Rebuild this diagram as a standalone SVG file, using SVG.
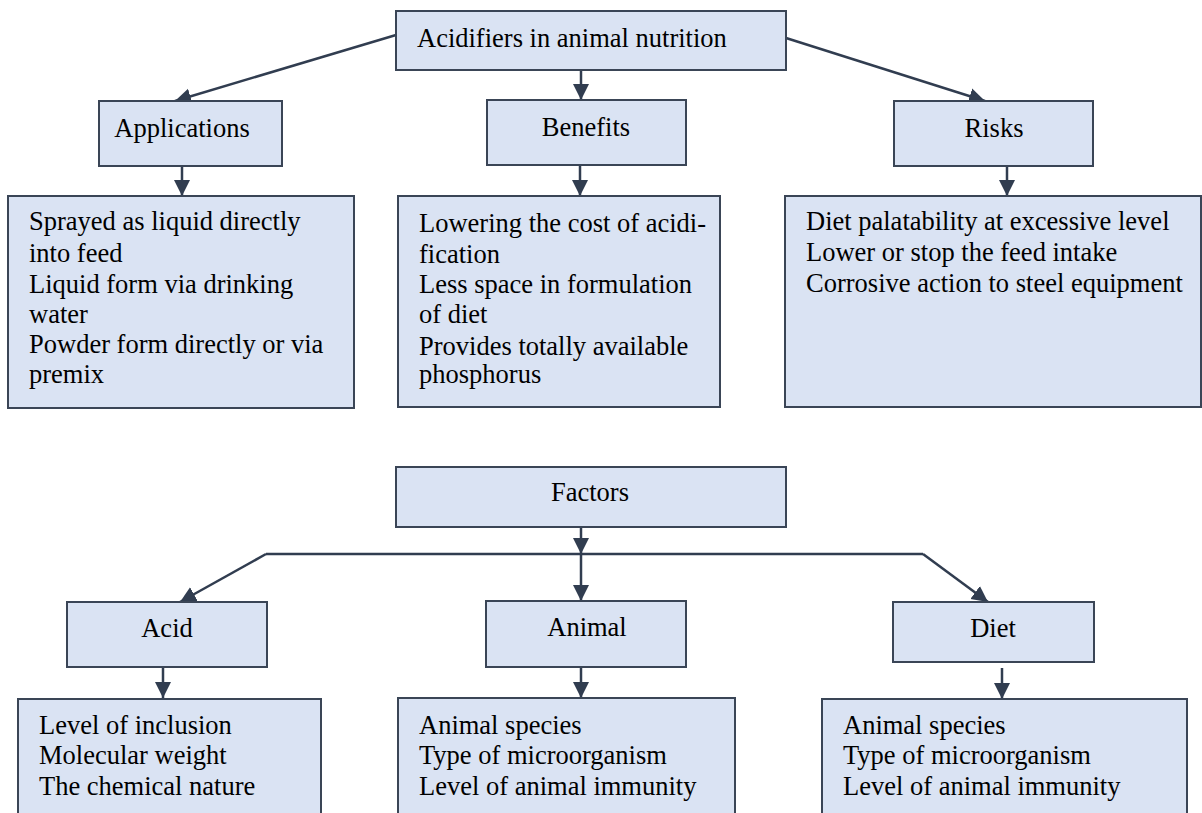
<svg xmlns="http://www.w3.org/2000/svg" width="1202" height="813" viewBox="0 0 1202 813">
<style>
.box{fill:#dae3f3;stroke:#3a4556;stroke-width:2}
.lbl{font-family:"Liberation Serif","Times New Roman",serif;font-size:26.5px;fill:#000}
.c{text-anchor:middle}
.con{fill:none;stroke:#313d50;stroke-width:2.5}
</style>
<defs>
<marker id="ah" markerUnits="userSpaceOnUse" markerWidth="17" markerHeight="17" refX="16" refY="8" orient="auto" viewBox="0 0 17 16">
<path d="M0,0 L16,8 L0,16 z" fill="#313d50"/>
</marker>
</defs>
<rect x="0" y="0" width="1202" height="813" fill="#fff"/>
<g id="connectors">
<line class="con" x1="396" y1="35" x2="175" y2="101" marker-end="url(#ah)"/>
<line class="con" x1="581" y1="70" x2="581" y2="100" marker-end="url(#ah)"/>
<line class="con" x1="786" y1="38" x2="985" y2="101" marker-end="url(#ah)"/>
<line class="con" x1="182" y1="166" x2="182" y2="196" marker-end="url(#ah)"/>
<line class="con" x1="580" y1="165" x2="580" y2="196" marker-end="url(#ah)"/>
<line class="con" x1="1007" y1="166" x2="1007" y2="196" marker-end="url(#ah)"/>
<line class="con" x1="581" y1="527" x2="581" y2="554" marker-end="url(#ah)"/>
<polyline class="con" points="266,554 923,554"/>
<line class="con" x1="581" y1="554" x2="581" y2="601" marker-end="url(#ah)"/>
<line class="con" x1="266" y1="554" x2="180" y2="602" marker-end="url(#ah)"/>
<line class="con" x1="923" y1="554" x2="988" y2="602" marker-end="url(#ah)"/>
<line class="con" x1="163" y1="667" x2="163" y2="698" marker-end="url(#ah)"/>
<line class="con" x1="581" y1="667" x2="581" y2="698" marker-end="url(#ah)"/>
<line class="con" x1="1002" y1="668" x2="1002" y2="699" marker-end="url(#ah)"/>
</g>
<g id="root">
<rect class="box" x="396" y="11" width="390" height="59"/>
<text class="lbl" x="417" y="47">Acidifiers in animal nutrition</text>
</g>
<g id="applications">
<rect class="box" x="99" y="101" width="183" height="65"/>
<text class="lbl c" x="182" y="137">Applications</text>
</g>
<g id="benefits">
<rect class="box" x="487" y="100" width="199" height="65"/>
<text class="lbl c" x="586" y="136">Benefits</text>
</g>
<g id="risks">
<rect class="box" x="894" y="101" width="199" height="65"/>
<text class="lbl c" x="994" y="137">Risks</text>
</g>
<g id="applications-details">
<rect class="box" x="8" y="196" width="346" height="212"/>
<text class="lbl" x="29" y="230">Sprayed as liquid directly</text>
<text class="lbl" x="29" y="262">into feed</text>
<text class="lbl" x="29" y="293">Liquid form via drinking</text>
<text class="lbl" x="29" y="323">water</text>
<text class="lbl" x="29" y="353">Powder form directly or via</text>
<text class="lbl" x="29" y="383">premix</text>
</g>
<g id="benefits-details">
<rect class="box" x="398" y="196" width="322" height="211"/>
<text class="lbl" x="419" y="232">Lowering the cost of acidi-</text>
<text class="lbl" x="419" y="263">fication</text>
<text class="lbl" x="419" y="293">Less space in formulation</text>
<text class="lbl" x="419" y="323">of diet</text>
<text class="lbl" x="419" y="355">Provides totally available</text>
<text class="lbl" x="419" y="383">phosphorus</text>
</g>
<g id="risks-details">
<rect class="box" x="785" y="196" width="416" height="211"/>
<text class="lbl" x="806" y="230">Diet palatability at excessive level</text>
<text class="lbl" x="806" y="261">Lower or stop the feed intake</text>
<text class="lbl" x="806" y="292">Corrosive action to steel equipment</text>
</g>
<g id="factors">
<rect class="box" x="396" y="467" width="390" height="60"/>
<text class="lbl c" x="590" y="501">Factors</text>
</g>
<g id="acid">
<rect class="box" x="67" y="602" width="200" height="65"/>
<text class="lbl c" x="167" y="637">Acid</text>
</g>
<g id="animal">
<rect class="box" x="486" y="601" width="200" height="66"/>
<text class="lbl c" x="587" y="636">Animal</text>
</g>
<g id="diet">
<rect class="box" x="893" y="602" width="201" height="60"/>
<text class="lbl c" x="993" y="637">Diet</text>
</g>
<g id="acid-details">
<rect class="box" x="18" y="699" width="303" height="130"/>
<text class="lbl" x="39" y="734">Level of inclusion</text>
<text class="lbl" x="39" y="764">Molecular weight</text>
<text class="lbl" x="39" y="795">The chemical nature</text>
</g>
<g id="animal-details">
<rect class="box" x="398" y="698" width="337" height="130"/>
<text class="lbl" x="419" y="734">Animal species</text>
<text class="lbl" x="419" y="764">Type of microorganism</text>
<text class="lbl" x="419" y="795">Level of animal immunity</text>
</g>
<g id="diet-details">
<rect class="box" x="822" y="699" width="365" height="130"/>
<text class="lbl" x="843" y="734">Animal species</text>
<text class="lbl" x="843" y="764">Type of microorganism</text>
<text class="lbl" x="843" y="795">Level of animal immunity</text>
</g>
</svg>
